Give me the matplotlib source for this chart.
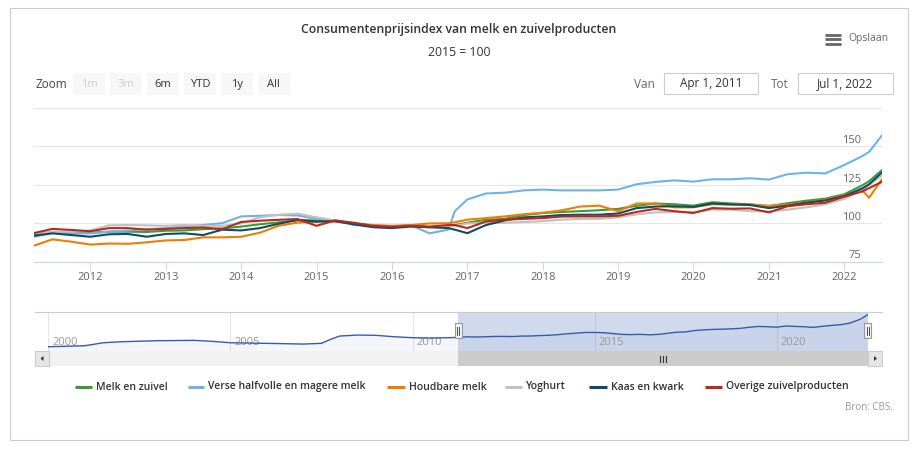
import numpy as np
import matplotlib
matplotlib.use('Agg')
import matplotlib.pyplot as plt
import matplotlib.transforms as mtransforms
from matplotlib.patches import Rectangle, Polygon

plt.rcParams['font.family'] = ['Open Sans', 'DejaVu Sans']

dates = ['2011-04', '2011-07', '2011-10',
         '2012-01', '2012-04', '2012-07', '2012-10',
         '2013-01', '2013-04', '2013-07', '2013-10',
         '2014-01', '2014-04', '2014-07', '2014-10',
         '2015-01', '2015-04', '2015-07', '2015-10',
         '2016-01', '2016-04', '2016-07', '2016-10', '2016-11',
         '2017-01', '2017-04', '2017-07', '2017-10',
         '2018-01', '2018-04', '2018-07', '2018-10',
         '2019-01', '2019-04', '2019-07', '2019-10',
         '2020-01', '2020-04', '2020-07', '2020-10',
         '2021-01', '2021-04', '2021-07', '2021-10',
         '2022-01', '2022-04', '2022-05', '2022-07']

melk = [93, 94, 93.6,
        94, 94.7, 94.7, 94.5,
        95.3, 95.5, 96.3, 96.8,
        98, 99.5, 100.7, 102,
        102, 101.5, 100, 98.5,
        98, 98.5, 97.6, 98.5, 99,
        100.5, 102.4, 103, 105.5,
        106.8, 107.5, 108, 108.6,
        109.5, 111.5, 113, 112.5,
        111.6, 113.8, 113, 112.5,
        111.2, 113.2, 114.8, 116.2,
        119, 125, 127.5, 134.5]

verse = [91.4, 94, 93.6,
         93.6, 94.7, 95.4, 96.3,
         97, 98, 99, 100.2,
         104.6, 105, 105.5, 105.2,
         103, 102, 99, 98.5,
         98, 99, 93.6, 96, 108,
         115.6, 119.5, 120, 121.5,
         122, 121.5, 121.5, 121.5,
         122, 125.5, 127, 128,
         127.2, 128.7, 128.7, 129.4,
         128.5, 132, 133, 132.5,
         138, 144, 146.5, 157]

houdbaar = [85.5, 89.7, 88.2,
            86.3, 87, 86.8, 87.8,
            89, 89.3, 91, 91,
            91.4, 94, 98.5, 100.6,
            101, 101.5, 100, 99,
            98.5, 99, 100, 100.2, 100.8,
            102.5, 103.5, 104.6, 106,
            107, 108.5, 111, 111.6,
            108, 113, 113, 110.5,
            110.5, 112.5, 112.3, 112.3,
            111.5, 112.3, 113.5, 115.5,
            118.2, 121, 116.7, 128.5]

yoghurt = [93.6, 94.7, 94.7,
           95.4, 98.8, 99, 98.8,
           98.5, 99, 98.5, 98.5,
           100, 104, 105.7, 106.4,
           104, 102, 100, 98.5,
           98, 98.5, 97.6, 98.5, 98.5,
           100, 100.5, 100.5, 101,
           101.5, 102.5, 103, 103,
           104, 106, 107.2, 107.5,
           107.5, 109, 109, 108,
           107.9, 109, 110.5, 112.5,
           116, 122, 125, 131]

kaas = [92, 93.6, 92.5,
        91.4, 93, 93.2, 91.4,
        93.2, 93.6, 92.5, 96,
        95.5, 97, 99.8, 102.4,
        101.3, 101.5, 99.5, 97.6,
        97, 98, 97.6, 97, 96,
        93.7, 99, 102, 104,
        104.6, 105.5, 105.7, 105.7,
        106.5, 110, 111, 111.2,
        110.8, 113, 112.4, 112,
        110, 111.6, 113.5, 115,
        117.8, 123, 125.5, 133]

overig = [93.7, 96.5, 95.8,
          95, 97, 97, 96,
          96.5, 97, 97.4, 96.3,
          101, 101.8, 102.4, 102.9,
          98.5, 102, 100.5, 98.5,
          98, 98.5, 98, 99, 99,
          97, 101.3, 102.5, 103,
          103.5, 104.5, 104.6, 104.6,
          105, 107.5, 109.5, 108,
          106.8, 110, 109.6, 109.8,
          107.2, 111.2, 112.5, 113.5,
          117.4, 121, 123, 127]

# navigator: melk en zuivel vanaf 2000
nav_dates_early = ['2000-01', '2001-01', '2001-07', '2002-01', '2003-01', '2004-01',
                   '2004-07', '2005-01', '2006-01', '2007-01', '2007-07', '2007-10',
                   '2008-01', '2008-07', '2009-01', '2009-07', '2010-01', '2010-07',
                   '2011-01']
nav_early = [75.8, 77.6, 83, 85, 86.8, 87.5,
             85.7, 83.1, 82, 80.7, 82, 89.3,
             95.4, 97.2, 96.7, 94.1, 92.3, 91.7,
             92.3]

names = ['Melk en zuivel', 'Verse halfvolle en magere melk', 'Houdbare melk',
         'Yoghurt', 'Kaas en kwark', 'Overige zuivelproducten']
colors = ['#3d9b35', '#6fb3e6', '#ef7d00', '#c4c0bb', '#0e4d64', '#b8291f']
series = [melk, verse, houdbaar, yoghurt, kaas, overig]
year_ticks = list(range(2012, 2023))
y_labels = [75, 100, 125, 150]
y_grid = [75, 100, 125, 150, 175]
nav_years = [2000, 2005, 2010, 2015, 2020]
buttons = ['1m', '3m', '6m', 'YTD', '1y', 'All']

W, H = 918, 449
fig = plt.figure(figsize=(W / 100, H / 100), dpi=100)


def px_axes(x0, y0, x1, y1):
    return fig.add_axes([x0 / W, 1 - y1 / H, (x1 - x0) / W, (y1 - y0) / H])


def d64(s):
    return np.datetime64(s + '-01')


dt = np.array([d64(d) for d in dates])
x_min, x_max = np.datetime64('2011-04-01'), np.datetime64('2022-07-01')

# hoofdgrafiek
ax = px_axes(33.5, 108, 881.7, 262)
ax.set_facecolor('none')
for vals, col in zip(series, colors):
    ax.plot(dt, vals, color=col, lw=1.5, solid_joinstyle='round')
ax.set_xlim(x_min, x_max)
ax.set_ylim(75, 175)
ax.set_yticks(y_grid)
ax.yaxis.grid(True, color='#e6e6e6', lw=0.8)
ax.set_axisbelow(True)
ax.tick_params(axis='y', length=0, labelleft=False)
ax.set_xticks([np.datetime64(f'{y}-01-01') for y in year_ticks])
ax.set_xticklabels([str(y) for y in year_ticks])
ax.tick_params(axis='x', length=6, width=0.8, color='#ccd6eb', labelcolor='#666666',
               labelsize=8, pad=1.5)
for s in ['top', 'left', 'right']:
    ax.spines[s].set_visible(False)
ax.spines['bottom'].set_color('#ccd6eb')
ax.spines['bottom'].set_linewidth(0.8)
ylab_tr = mtransforms.offset_copy(ax.get_yaxis_transform(), fig=fig, y=6, units='dots')
for v in y_labels:
    ax.text((861 - 33.5) / 848.2, v, str(v), transform=ylab_tr, ha='right', va='center',
            fontsize=8, color='#666666')

# navigator
nav = px_axes(48.3, 311.7, 867.7, 351)
nav.set_facecolor('none')
nav_dt = np.concatenate([np.array([d64(d) for d in nav_dates_early]), dt])
nav_vals = nav_early + melk
nav.set_xlim(np.datetime64('2000-01-01'), x_max)
nav.set_ylim(68, 140)
nav.fill_between(nav_dt, nav_vals, 68, color='#335cad', alpha=0.05, lw=0)
nav.plot(nav_dt, nav_vals, color='#335cad', lw=1, zorder=3)
nav.axvspan(x_min, x_max, color=(0.4, 0.52, 0.76, 0.3), lw=0, zorder=1)
for y in nav_years:
    nav.axvline(np.datetime64(f'{y}-01-01'), color='#e6e6e6', lw=0.8, zorder=0.5)
    lab_tr = mtransforms.offset_copy(nav.get_xaxis_transform(), fig=fig, x=4, units='dots')
    nav.text(np.datetime64(f'{y}-01-01'), 0.21, str(y), transform=lab_tr, ha='left',
             va='center', fontsize=8, color='#999999', zorder=2)
nav.axis('off')

# overlay in pixelcoordinaten
ov = fig.add_axes([0, 0, 1, 1], zorder=10)
ov.set_xlim(0, W)
ov.set_ylim(H, 0)
ov.axis('off')

ov.add_patch(Rectangle((10, 8), 898, 432, fill=False, ec='#cccccc', lw=0.8))

ov.text(459, 30, 'Consumentenprijsindex van melk en zuivelproducten', ha='center',
        va='center', fontsize=8.8, fontweight='semibold', color='#333333')
ov.text(459, 53, '2015 = 100', ha='center', va='center', fontsize=8.8, color='#333333')

for yb in [34.5, 39, 43.5]:
    ov.plot([825, 841], [yb, yb], color='#666666', lw=2, solid_capstyle='butt')
ov.text(848, 38.5, 'Opslaan', ha='left', va='center', fontsize=7.5, color='#666666')

ov.text(35, 84, 'Zoom', ha='left', va='center', fontsize=8.5, color='#444444')
bx = [73.3, 110, 146.7, 184, 221, 258]
for x0, lab in zip(bx, buttons):
    ov.add_patch(Rectangle((x0, 73.3), 31.7, 21.7, fc='#f7f7f7', ec='none'))
    ov.text(x0 + 15.85, 84.2, lab, ha='center', va='center', fontsize=8,
            color='#cccccc' if lab in ('1m', '3m') else '#333333')

ov.text(634.3, 84, 'Van', ha='left', va='center', fontsize=8.5, color='#666666')
ov.add_patch(Rectangle((664.3, 73.3), 94, 21, fc='white', ec='#cccccc', lw=0.8))
ov.text(711.3, 84, 'Apr 1, 2011', ha='center', va='center', fontsize=8.5, color='#333333')
ov.text(770.7, 84, 'Tot', ha='left', va='center', fontsize=8.5, color='#666666')
ov.add_patch(Rectangle((798.3, 73.3), 94.4, 21, fc='white', ec='#cccccc', lw=0.8))
ov.text(845.5, 84, 'Jul 1, 2022', ha='center', va='center', fontsize=8.5, color='#333333')

# navigator rand, scrollbar en handvatten
ov.plot([35, 881.7], [311.7, 311.7], color='#cccccc', lw=0.8)
ov.add_patch(Rectangle((48.3, 351), 819.4, 15, fc='#f2f2f2', ec='none'))
ov.add_patch(Rectangle((458, 351), 409.7, 15, fc='#cccccc', ec='none'))
for xb in [35, 867.7]:
    ov.add_patch(Rectangle((xb, 351), 14, 15, fc='#e6e6e6', ec='#cccccc', lw=0.8))
ov.add_patch(Polygon([[40.5, 358.5], [43.5, 356], [43.5, 361]], closed=True, fc='#333333', ec='none'))
ov.add_patch(Polygon([[877, 358.5], [874, 356], [874, 361]], closed=True, fc='#333333', ec='none'))
for xg in [660, 663, 666]:
    ov.plot([xg, xg], [355.5, 361.5], color='#333333', lw=0.8)
for xh in [458, 867.7]:
    ov.add_patch(Rectangle((xh - 3.5, 323.3), 7, 15, fc='#f2f2f2', ec='#999999', lw=0.8))
    for xi in [xh - 1.2, xh + 1.2]:
        ov.plot([xi, xi], [327, 335], color='#333333', lw=0.6)

# legenda
sym = [(75, 92), (187.6, 204.3), (387.4, 404.6), (504.8, 522), (589.4, 606.6), (704.6, 721.8)]
for (s0, s1), name, col in zip(sym, names, colors):
    ov.plot([s0, s1], [387, 387], color=col, lw=2.2, solid_capstyle='butt')
    ov.text(s1 + 4, 387, name, ha='left', va='center', fontsize=7.5, fontweight='semibold',
            color='#333333')

ov.text(893, 408, 'Bron: CBS.', ha='right', va='center', fontsize=7, color='#999999')

fig.savefig('out.png', dpi=100)
